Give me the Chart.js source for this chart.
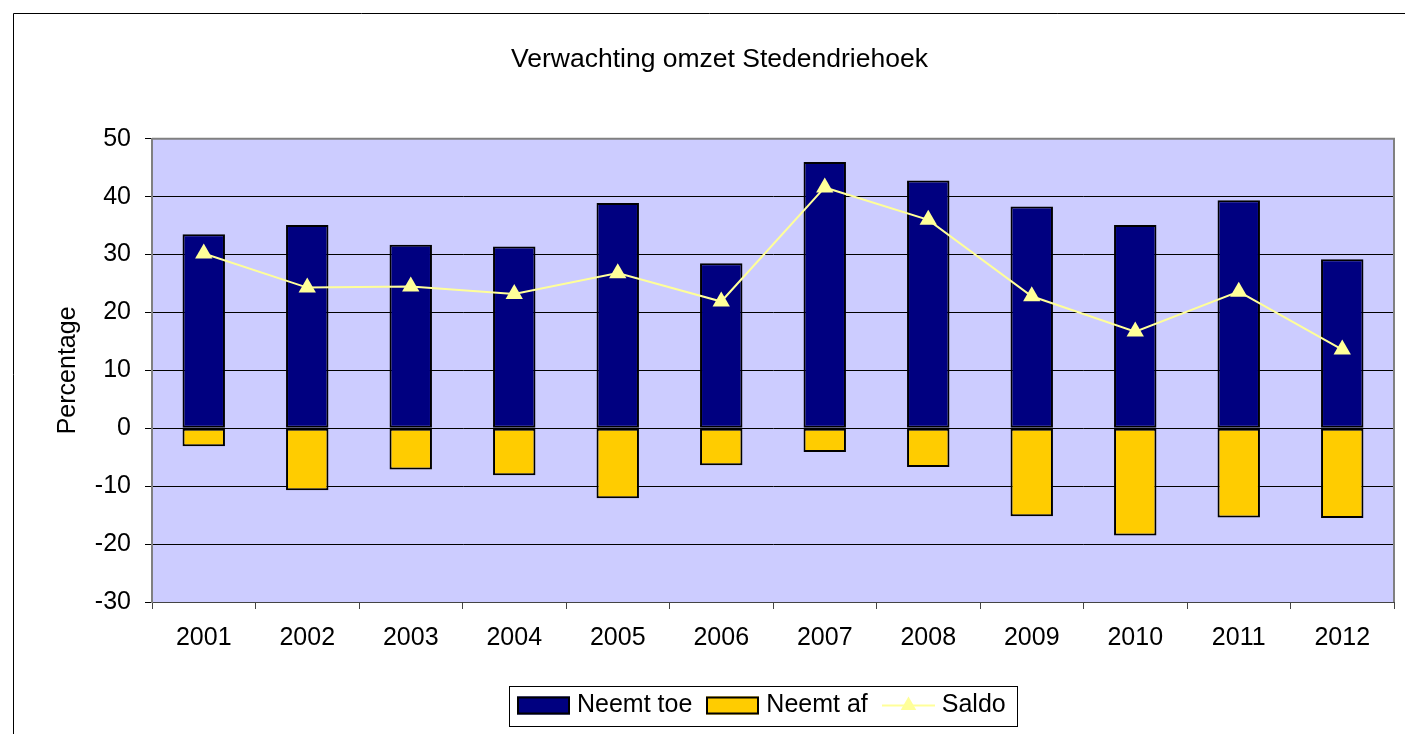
<!DOCTYPE html>
<html>
<head>
<meta charset="utf-8">
<script src="https://cdn.jsdelivr.net/npm/chart.js@4/dist/chart.umd.min.js"></script>
<style>
html,body{margin:0;padding:0;background:#fff;overflow:hidden}
#wrap{width:1405px;height:734px;position:relative}
</style>
</head>
<body>
<div id="wrap"><canvas id="c" width="1405" height="734"></canvas></div>
<script>
const categories = ['2001','2002','2003','2004','2005','2006','2007','2008','2009','2010','2011','2012'];
const neemtToe = [33.5, 35.1, 31.7, 31.4, 38.9, 28.5, 46.0, 42.8, 38.3, 35.1, 39.4, 29.2];
const neemtAf = [-3.1, -10.7, -7.1, -8.1, -12.1, -6.4, -4.1, -6.7, -15.2, -18.5, -15.4, -15.5];
const saldo = [30.2, 24.3, 24.5, 23.2, 26.8, 21.9, 41.6, 36.0, 22.8, 16.7, 23.6, 13.6];
const seriesNames = ['Neemt toe', 'Neemt af', 'Saldo'];
const yMin = -30, yMax = 50, yStep = 10;
const chartTitle = 'Verwachting omzet Stedendriehoek';
const yTitle = 'Percentage';

const FONT = "'Liberation Sans', Arial, sans-serif";
const PLOT_BG = '#CCCCFF';
const NAVY = '#000080';
const GOLD = '#FFCC00';
const LINE = '#FFFF99';
const SERIES_FILL = [NAVY, GOLD, LINE];

const LEG_BOX_W = 53, LEG_BOX_H = 18;
const LEGEND_START_X = 517;   // left of first legend item
const TITLE_CENTER_X = 719.5;

function drawTriangle(ctx, cx, cy, r) {
  ctx.beginPath();
  ctx.moveTo(cx, cy - r);
  ctx.lineTo(cx + r * 0.866, cy + r * 0.5);
  ctx.lineTo(cx - r * 0.866, cy + r * 0.5);
  ctx.closePath();
  ctx.fill();
}

const decorPlugin = {
  id: 'decor',
  afterLayout(chart) {
    const lg = chart.legend;
    if (lg && lg.lineWidths) {
      const p = lg.options.labels.padding;
      const start = (lg.left + p + lg.right - lg.lineWidths[0]) / 2;
      const dx = LEGEND_START_X - start;
      lg.left += dx; lg.right += dx;
    }
    const tb = chart.titleBlock;
    if (tb) {
      const dx = TITLE_CENTER_X - (tb.left + tb.right) / 2;
      tb.left += dx; tb.right += dx;
    }
  },
  beforeDraw(chart) {
    const {ctx, chartArea: a} = chart;
    ctx.save();
    ctx.fillStyle = PLOT_BG;
    ctx.fillRect(a.left, a.top, a.right - a.left, a.bottom - a.top);
    ctx.strokeStyle = '#000';
    ctx.lineWidth = 1;
    ctx.beginPath();
    ctx.moveTo(13.5, chart.height + 5);
    ctx.lineTo(13.5, 13.5);
    ctx.lineTo(chart.width + 5, 13.5);
    ctx.stroke();
    ctx.restore();
  },
  beforeDatasetsDraw(chart) {
    const {ctx, chartArea: a} = chart;
    ctx.save();
    ctx.strokeStyle = '#808080';
    ctx.lineWidth = 2;
    ctx.beginPath();
    ctx.moveTo(a.left, a.top);
    ctx.lineTo(a.right, a.top);
    ctx.lineTo(a.right, a.bottom);
    ctx.stroke();
    ctx.restore();
  },
  afterDraw(chart) {
    const {ctx} = chart;
    const lg = chart.legend;
    if (!lg || !lg.legendHitBoxes || !lg.legendHitBoxes.length) return;
    const hb = lg.legendHitBoxes;
    ctx.save();
    const first = hb[0], last = hb[hb.length - 1];
    const cy = first.top + first.height / 2;
    ctx.strokeStyle = '#000';
    ctx.lineWidth = 1;
    const fl = Math.round(first.left - 8);
    const fr = Math.round(last.left + last.width + 11);
    ctx.strokeRect(fl + 0.5, Math.round(cy - 20) + 0.5, fr - fl, 40);
    hb.forEach((h, i) => {
      const x0 = Math.round(h.left);
      const yc = h.top + h.height / 2;
      if (i < 2) {
        ctx.fillStyle = SERIES_FILL[i];
        ctx.fillRect(x0, yc - LEG_BOX_H / 2, LEG_BOX_W, LEG_BOX_H);
        ctx.strokeStyle = '#000';
        ctx.lineWidth = 2;
        ctx.strokeRect(x0 + 1, yc - LEG_BOX_H / 2 + 1, LEG_BOX_W - 2, LEG_BOX_H - 2);
      } else {
        ctx.strokeStyle = LINE;
        ctx.lineWidth = 2;
        ctx.beginPath();
        ctx.moveTo(x0, yc);
        ctx.lineTo(x0 + LEG_BOX_W, yc);
        ctx.stroke();
        ctx.fillStyle = LINE;
        drawTriangle(ctx, x0 + LEG_BOX_W / 2, yc, 9);
      }
    });
    ctx.restore();
  }
};

new Chart(document.getElementById('c'), {
  data: {
    labels: categories,
    datasets: [
      {
        type: 'bar', label: seriesNames[0], data: neemtToe,
        backgroundColor: NAVY, borderColor: '#000', borderWidth: 2, borderSkipped: false,
        barPercentage: 0.41, categoryPercentage: 1, order: 1, stack: 'bars'
      },
      {
        type: 'bar', label: seriesNames[1], data: neemtAf,
        backgroundColor: GOLD, borderColor: '#000', borderWidth: 2, borderSkipped: false,
        barPercentage: 0.41, categoryPercentage: 1, order: 1, stack: 'bars'
      },
      {
        type: 'line', label: seriesNames[2], data: saldo,
        borderColor: LINE, backgroundColor: LINE, borderWidth: 2,
        pointStyle: 'triangle', pointRadius: 10, pointBorderWidth: 0,
        pointBackgroundColor: LINE, pointBorderColor: LINE,
        tension: 0, fill: false, order: 0, stack: 'saldo'
      }
    ]
  },
  options: {
    responsive: false,
    animation: false,
    devicePixelRatio: 1,
    layout: { padding: { left: 14, right: 11, top: 0, bottom: 6 } },
    plugins: {
      tooltip: { enabled: false },
      title: {
        display: true, text: chartTitle, color: '#000',
        font: { family: FONT, size: 26.5, weight: 'normal', lineHeight: 1.2 },
        padding: { top: 44, bottom: 63 }
      },
      legend: {
        position: 'bottom',
        labels: {
          color: '#000',
          font: { family: FONT, size: 25 },
          boxWidth: 47.5, boxHeight: 18, padding: 14,
          sort: (a, b) => a.datasetIndex - b.datasetIndex,
          generateLabels(chart) {
            const items = Chart.defaults.plugins.legend.labels.generateLabels(chart);
            items.forEach(it => {
              it.fillStyle = 'rgba(0,0,0,0)';
              it.strokeStyle = 'rgba(0,0,0,0)';
              it.lineWidth = 0;
            });
            return items;
          }
        }
      }
    },
    scales: {
      x: {
        stacked: true,
        offset: true,
        grid: { display: true, drawOnChartArea: false, drawTicks: true, tickLength: 7, color: '#444', offset: true },
        border: { display: true, color: '#444', width: 1 },
        ticks: { color: '#000', font: { family: FONT, size: 25 }, padding: 14, maxRotation: 0, autoSkip: false },
        afterFit(scale) { scale.height = 77; }
      },
      y: {
        stacked: true,
        min: yMin, max: yMax,
        ticks: { stepSize: yStep, color: '#000', font: { family: FONT, size: 25 }, padding: 14 },
        grid: { color: '#000', lineWidth: 1, tickLength: 7, drawTicks: true },
        border: { display: true, color: '#808080', width: 2 },
        title: {
          display: true, text: yTitle, color: '#000',
          font: { family: FONT, size: 25, lineHeight: 1.2 },
          padding: { top: 39, bottom: 0 }
        },
        afterFit(scale) { scale.width = 138; }
      }
    }
  },
  plugins: [decorPlugin]
});
</script>
</body>
</html>
